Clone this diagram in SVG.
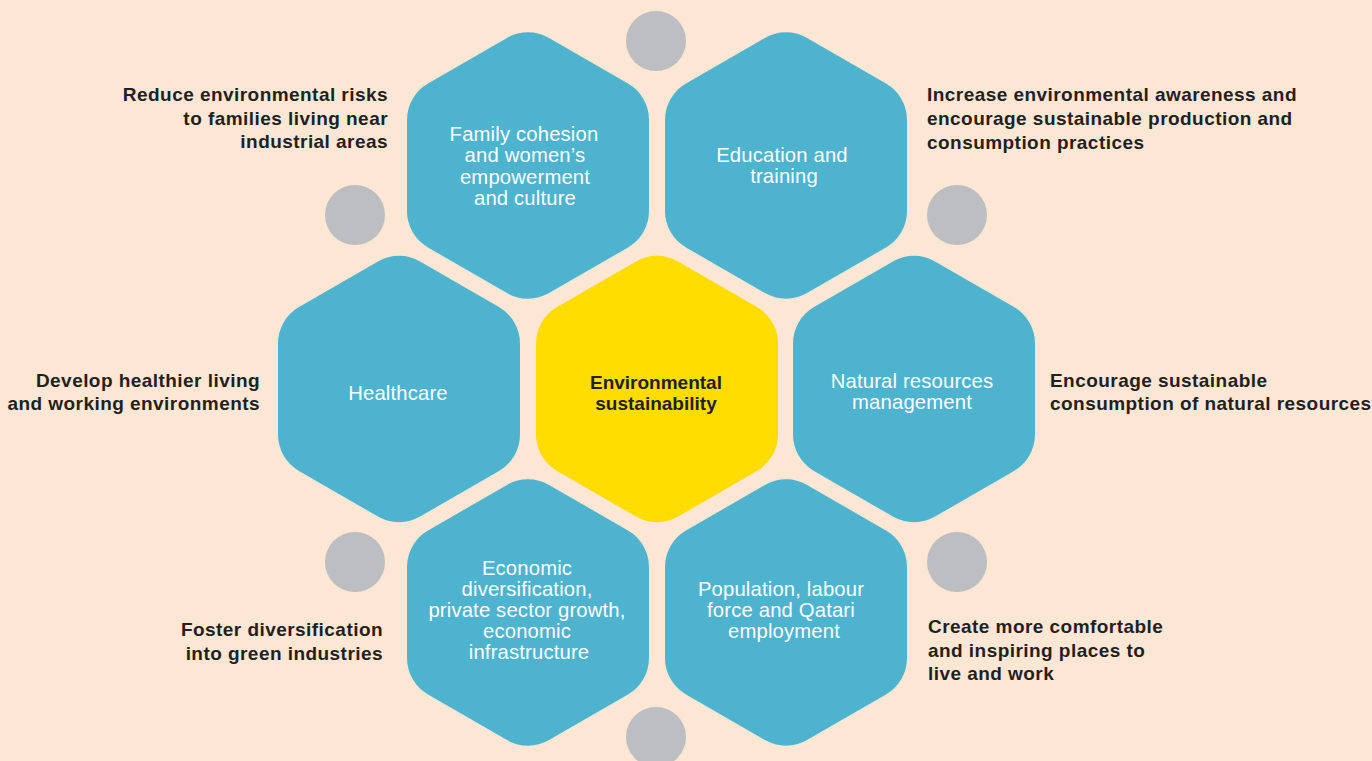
<svg xmlns="http://www.w3.org/2000/svg" xmlns:xlink="http://www.w3.org/1999/xlink" width="1372" height="761" viewBox="0 0 1372 761">
<style>
.bg{fill:#FCE6D4}
.hex{fill:#4DB3CF}
.core{fill:#FFDC00}
.dot{fill:#BDBEC1}
.w{font-family:"Liberation Sans",Arial,sans-serif;font-size:20.3px;letter-spacing:0.15px;fill:#FFFFFF;text-anchor:middle}
.c{font-family:"Liberation Sans",Arial,sans-serif;font-size:19px;font-weight:bold;fill:#231F20;text-anchor:middle}
.l{font-family:"Liberation Sans",Arial,sans-serif;font-size:19px;font-weight:bold;letter-spacing:0.45px;fill:#231F20}
.r{text-anchor:end}
</style>
<defs>
<path id="hx" d="M -21,-127.6 A 42 42 0 0 1 21,-127.6 L 99.98,-81.98 A 42 42 0 0 1 120.98,-45.6 L 120.98,45.6 A 42 42 0 0 1 99.98,81.98 L 21,127.6 A 42 42 0 0 1 -21,127.6 L -99.98,81.98 A 42 42 0 0 1 -120.98,45.6 L -120.98,-45.6 A 42 42 0 0 1 -99.98,-81.98 Z"/>
</defs>
<rect class="bg" x="0" y="0" width="1372" height="761"/>
<g id="dots">
<circle class="dot" cx="656" cy="41" r="30"/>
<circle class="dot" cx="355" cy="215" r="30"/>
<circle class="dot" cx="957" cy="215" r="30"/>
<circle class="dot" cx="355" cy="562" r="30"/>
<circle class="dot" cx="957" cy="562" r="30"/>
<circle class="dot" cx="656" cy="737" r="30"/>
</g>
<g id="connectors"/>
<g id="node-center">
<use xlink:href="#hx" href="#hx" class="core" transform="translate(657,389)"/>
<text class="c" x="656" y="388.5">Environmental</text>
<text class="c" x="656" y="409.5">sustainability</text>
</g>
<g id="node-family">
<use xlink:href="#hx" href="#hx" class="hex" transform="translate(528,165.5)"/>
<text class="w" x="524" y="141">Family cohesion</text>
<text class="w" x="525" y="162">and women’s</text>
<text class="w" x="525" y="183.5">empowerment</text>
<text class="w" x="525" y="205">and culture</text>
</g>
<g id="node-education">
<use xlink:href="#hx" href="#hx" class="hex" transform="translate(786,165.5)"/>
<text class="w" x="782" y="162">Education and</text>
<text class="w" x="784" y="183">training</text>
</g>
<g id="node-healthcare">
<use xlink:href="#hx" href="#hx" class="hex" transform="translate(399,389)"/>
<text class="w" x="398" y="400">Healthcare</text>
</g>
<g id="node-natural">
<use xlink:href="#hx" href="#hx" class="hex" transform="translate(914,389)"/>
<text class="w" x="912" y="388">Natural resources</text>
<text class="w" x="912" y="409">management</text>
</g>
<g id="node-economic">
<use xlink:href="#hx" href="#hx" class="hex" transform="translate(528,612.5)"/>
<text class="w" x="527" y="574.5">Economic</text>
<text class="w" x="527" y="595.5">diversification,</text>
<text class="w" x="527" y="617">private sector growth,</text>
<text class="w" x="527" y="638">economic</text>
<text class="w" x="529" y="659">infrastructure</text>
</g>
<g id="node-population">
<use xlink:href="#hx" href="#hx" class="hex" transform="translate(786,612.5)"/>
<text class="w" x="781" y="595.5">Population, labour</text>
<text class="w" x="781" y="617">force and Qatari</text>
<text class="w" x="784" y="638">employment</text>
</g>
<g id="label-family">
<text class="l r" x="388" y="101">Reduce environmental risks</text>
<text class="l r" x="388" y="124.5">to families living near</text>
<text class="l r" x="388" y="148">industrial areas</text>
</g>
<g id="label-education">
<text class="l" x="927" y="101">Increase environmental awareness and</text>
<text class="l" x="927" y="125">encourage sustainable production and</text>
<text class="l" x="927" y="148.5">consumption practices</text>
</g>
<g id="label-healthcare">
<text class="l r" x="260" y="386.5">Develop healthier living</text>
<text class="l r" x="260" y="410">and working environments</text>
</g>
<g id="label-natural">
<text class="l" x="1050" y="386.5">Encourage sustainable</text>
<text class="l" x="1050" y="410">consumption of natural resources</text>
</g>
<g id="label-economic">
<text class="l r" x="383" y="636">Foster diversification</text>
<text class="l r" x="383" y="660">into green industries</text>
</g>
<g id="label-population">
<text class="l" x="928" y="632.5">Create more comfortable</text>
<text class="l" x="928" y="656.5">and inspiring places to</text>
<text class="l" x="928" y="680">live and work</text>
</g>
</svg>
